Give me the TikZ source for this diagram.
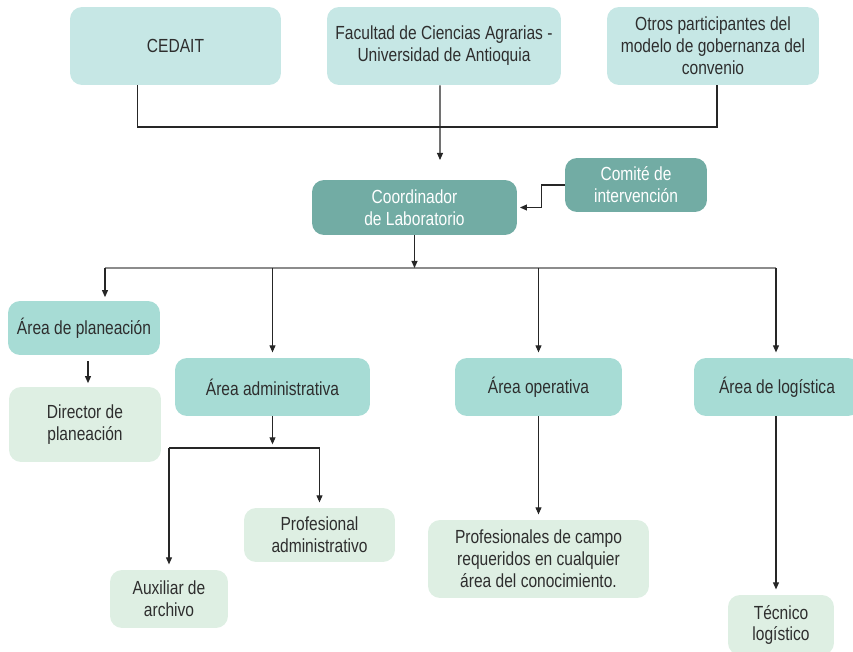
\documentclass[tikz,border=0pt]{standalone}
\usepackage{fontspec}
\setmainfont[FakeStretch=0.82]{Liberation Sans}
\usepackage{tikz}
\usetikzlibrary{arrows.meta,calc}
\tikzset{>={Triangle[length=4pt,width=3.4pt]}}

\definecolor{topcol}{HTML}{C6E7E5}
\definecolor{darkcol}{HTML}{72ACA4}
\definecolor{areacol}{HTML}{A7DCD5}
\definecolor{leafcol}{HTML}{DEEFE3}
\definecolor{textcol}{HTML}{2E2E2E}

\tikzset{
  box/.style={rounded corners=0.24cm, align=center, inner sep=2pt,
    text=textcol, font=\fontsize{10.8}{12.5}\selectfont},
  boxsize/.style n args={2}{minimum width=#1cm, minimum height=#2cm},
  topbox/.style={box, fill=topcol},
  headbox/.style={box, fill=darkcol, text=white},
  areabox/.style={box, fill=areacol},
  leafbox/.style={box, fill=leafcol},
  link/.style={draw=black!85, line width=0.6pt},
  busline/.style={draw=black!45, line width=1.3pt}
}

\begin{document}
\begin{tikzpicture}[x=0.02cm,y=-0.02cm]
      \useasboundingbox (0,0) rectangle (853,652);

      % partners
      \node[topbox,boxsize={4.22}{1.56}] (cedait) at (175.5,46) {CEDAIT};
      \node[topbox,boxsize={4.68}{1.56}] (facultad) at (444,46) {Facultad de Ciencias Agrarias -\\Universidad de Antioquia};
      \node[topbox,boxsize={4.24}{1.56}] (otros) at (713,46) {Otros participantes del\\modelo de gobernanza del\\convenio};

      % coordination
      \node[headbox,boxsize={4.10}{1.10}] (coord) at (414.5,207.5) {Coordinador\\de Laboratorio};
      \node[headbox,boxsize={2.84}{1.08}] (comite) at (636,185) {Comité de\\intervención};

      % areas
      \node[areabox,boxsize={3.04}{1.08}] (planea) at (84,328) {Área de planeación};
      \node[areabox,boxsize={3.90}{1.16}] (admin) at (272.5,387) {Área administrativa};
      \node[areabox,boxsize={3.34}{1.16}] (opera) at (538.5,387) {Área operativa};
      \node[areabox,boxsize={3.32}{1.16}] (logis) at (777,387) {Área de logística};

      % staff
      \node[leafbox,boxsize={3.04}{1.50}] (director) at (85,424.5) {Director de\\planeación};
      \node[leafbox,boxsize={2.36}{1.16}] (auxil) at (169,599) {Auxiliar de\\archivo};
      \node[leafbox,boxsize={3.02}{1.08}] (profadm) at (319.5,535) {Profesional\\administrativo};
      \node[leafbox,boxsize={4.42}{1.56}] (profcampo) at (538.5,559) {Profesionales de campo\\requeridos en cualquier\\área del conocimiento.};
      \node[leafbox,boxsize={2.12}{1.20}] (tecnico) at (781,625) {Técnico\\logístico};

      \coordinate (top) at (440,127);
      \coordinate (bus) at (413,268);
      \coordinate (split) at (auxil.north |- 0,448);

      \draw[link] ([xshift=-0.76cm]cedait.south) |- (top) -| ([xshift=0.08cm]otros.south);
      \draw[link,->] ([xshift=-0.08cm]facultad.south) -- (top) -- ++(0,33);
      \draw[link,->,shorten >=1.5pt] (comite.west) -- ++(-23,0) |- (coord.east);

      \draw[busline] ($(planea.north |- bus)+(21,0)$) -- ($(logis.north |- bus)+(-1,0)$);
      \draw[link,->] (coord.south) -- (coord.south |- bus);
      \draw[link,->,shorten >=2pt] ($(planea.north |- bus)+(21,0)$) -- ($(planea.north)+(21,0)$);
      \foreach \n/\dx in {admin/0, opera/0, logis/-1} {
        \draw[link,->,shorten >=3pt] ($(\n.north |- bus)+(\dx,0)$) -- ($(\n.north)+(\dx,0)$);
      }

      \draw[link,->,shorten <=3.5pt,shorten >=2pt] ($(planea.south)+(4,0)$) -- ($(director.north)+(3,0)$);
      \draw[link,->] (admin.south) -- ++(0,28);
      \draw[link,->,shorten >=3pt] (split) -- (auxil.north);
      \draw[link,->,shorten >=3pt] (split) -| (profadm.north);
      \draw[link,->,shorten >=3pt] (opera.south) -- (profcampo.north);
      \draw[link,->,shorten >=3pt] ($(logis.south)+(-1,0)$) -- ($(logis.south |- tecnico.north)+(-1,0)$);
    \end{tikzpicture}
\end{document}
